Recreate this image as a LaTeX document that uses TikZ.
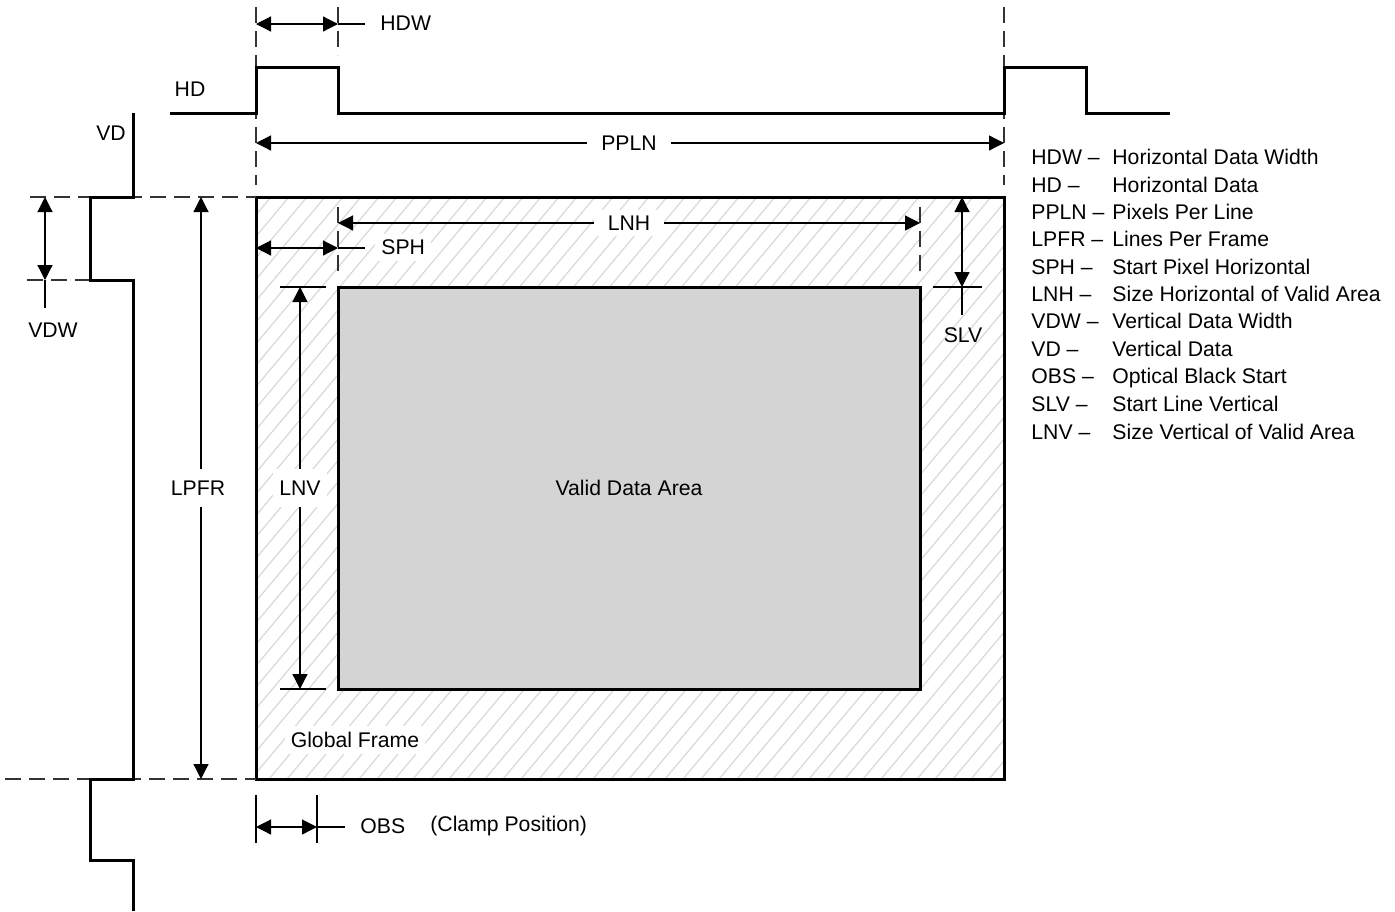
\documentclass[tikz,border=0pt]{standalone}
\usepackage{fontspec}
\setmainfont{Liberation Sans}
\usetikzlibrary{arrows.meta}
\definecolor{validgray}{HTML}{D4D4D4}
\definecolor{hatchgray}{HTML}{D8D8D8}
\tikzset{
  wave/.style={line width=1.5pt, line join=miter, line cap=butt},
  frameline/.style={line width=1.5pt, line join=miter},
  dimline/.style={line width=0.6pt, {Triangle[length=7.5pt,width=7.5pt]}-{Triangle[length=7.5pt,width=7.5pt]}},
  extline/.style={line width=0.6pt},
  guide/.style={line width=0.6pt, dash pattern=on 8pt off 4pt, draw=black!80},
  hatchline/.style={line width=0.6pt, draw=hatchgray},
  lbl/.style={inner sep=1pt},
  gaplbl/.style={fill=white, inner xsep=7pt, inner ysep=3pt},
  wlbl/.style={fill=white, inner sep=3pt},
  legabbr/.style={anchor=base west, inner sep=0pt},
  legtext/.style={anchor=base west, inner sep=0pt},
}
\begin{document}
\begin{tikzpicture}[x=0.5pt,y=-0.5pt, font=\fontsize{10.6}{12.5}\selectfont]
\useasboundingbox (0,0) rectangle (1395,911);

% ---------- key coordinates ----------
\coordinate (F-nw) at (256,197);
\coordinate (F-se) at (1004,779);
\coordinate (V-nw) at (338,287);
\coordinate (V-se) at (920,689);

% ---------- hatched global frame ----------
\begin{scope}
  \clip (F-nw) rectangle (F-se);
  \foreach \i in {0,...,70} {
    \draw[hatchline] ({\i*18-235},779) -- ({\i*18+253},197);
  }
\end{scope}
\draw[frameline] (F-nw) rectangle (F-se);
\draw[frameline, fill=validgray] (V-nw) rectangle (V-se);
\node (valid) at (629,488) {Valid Data Area};
\node[wlbl] (global) at (355,740) {Global Frame};

% ---------- guide (dashed) lines ----------
\coordinate (g1a) at (256,7);   \coordinate (g1b) at (256,185);
\coordinate (g2a) at (338,7);   \coordinate (g2b) at (338,55);
\coordinate (g3a) at (1004,7);  \coordinate (g3b) at (1004,185);
\coordinate (g4a) at (30,197);  \coordinate (g4b) at (256,197);
\coordinate (g5a) at (27,280);  \coordinate (g5b) at (90,280);
\coordinate (g6a) at (5,779);   \coordinate (g6b) at (256,779);
\coordinate (g7a) at (338,207); \coordinate (g7b) at (338,275);
\coordinate (g8a) at (920,207); \coordinate (g8b) at (920,275);
\draw[guide] (g1a) -- (g1b);
\draw[guide] (g2a) -- (g2b);
\draw[guide] (g3a) -- (g3b);
\draw[guide] (g4a) -- (g4b);
\draw[guide] (g5a) -- (g5b);
\draw[guide] (g6a) -- (g6b);
\draw[guide] (g7a) -- (g7b);
\draw[guide] (g8a) -- (g8b);

% ---------- HD waveform ----------
\coordinate (hd0) at (170,113);
\coordinate (hd1) at (1170,113);
\draw[wave] (hd0) -- (256,113) -- (256,67) -- (338,67) -- (338,113)
  -- (1004,113) -- (1004,67) -- (1086,67) -- (1086,113) -- (hd1);
\node[lbl] (hdlabel) at (190,89) {HD};

% ---------- VD waveform ----------
\coordinate (vd0) at (133,113);
\coordinate (vd1) at (133,911);
\draw[wave] (vd0) -- (133,197) -- (90,197) -- (90,280) -- (133,280)
  -- (133,779) -- (90,779) -- (90,860) -- (133,860) -- (vd1);
\node[lbl] (vdlabel) at (111,133) {VD};

% ---------- HDW ----------
\coordinate (hdwA) at (256,24); \coordinate (hdwB) at (338,24); \coordinate (hdwC) at (365,24);
\draw[dimline] (hdwA) -- (hdwB);
\draw[extline] (hdwB) -- (hdwC);
\node[lbl, anchor=west] (hdw) at (378,23) {HDW};

% ---------- PPLN ----------
\coordinate (pplnA) at (256,143); \coordinate (pplnB) at (1004,143);
\draw[dimline] (pplnA) -- (pplnB);
\node[gaplbl] (ppln) at (629,143) {PPLN};

% ---------- LNH ----------
\coordinate (lnhA) at (338,223); \coordinate (lnhB) at (920,223);
\draw[dimline] (lnhA) -- (lnhB);
\node[gaplbl] (lnh) at (629,223) {LNH};

% ---------- SPH ----------
\coordinate (sphA) at (256,248); \coordinate (sphB) at (338,248); \coordinate (sphC) at (365,248);
\draw[dimline] (sphA) -- (sphB);
\draw[extline] (sphB) -- (sphC);
\node[wlbl, anchor=west] (sph) at (375,247) {SPH};

% ---------- SLV ----------
\coordinate (slvA) at (962,197); \coordinate (slvB) at (962,287); \coordinate (slvC) at (962,315);
\coordinate (slvT1) at (933,287); \coordinate (slvT2) at (982,287);
\draw[dimline] (slvA) -- (slvB);
\draw[extline] (slvB) -- (slvC);
\draw[extline] (slvT1) -- (slvT2);
\node[lbl] (slv) at (963,335) {SLV};

% ---------- LNV ----------
\coordinate (lnvA) at (300,287); \coordinate (lnvB) at (300,689);
\coordinate (lnvT1) at (280,287); \coordinate (lnvT2) at (326,287);
\coordinate (lnvT3) at (280,689); \coordinate (lnvT4) at (326,689);
\draw[extline] (lnvT1) -- (lnvT2);
\draw[extline] (lnvT3) -- (lnvT4);
\draw[dimline] (lnvA) -- (lnvB);
\node[fill=white, inner xsep=3pt, inner ysep=6pt] (lnv) at (300,488) {LNV};

% ---------- LPFR ----------
\coordinate (lpfrA) at (201,197); \coordinate (lpfrB) at (201,779);
\draw[dimline] (lpfrA) -- (lpfrB);
\node[fill=white, inner xsep=3pt, inner ysep=6pt] (lpfr) at (198,488) {LPFR};

% ---------- VDW ----------
\coordinate (vdwA) at (45,197); \coordinate (vdwB) at (45,280); \coordinate (vdwC) at (45,308);
\draw[dimline] (vdwA) -- (vdwB);
\draw[extline] (vdwB) -- (vdwC);
\node[lbl] (vdw) at (53,330) {VDW};

% ---------- OBS ----------
\coordinate (obsT1a) at (256,795); \coordinate (obsT1b) at (256,843);
\coordinate (obsT2a) at (317,795); \coordinate (obsT2b) at (317,843);
\coordinate (obsA) at (256,827); \coordinate (obsB) at (317,827); \coordinate (obsC) at (345,827);
\draw[extline] (obsT1a) -- (obsT1b);
\draw[extline] (obsT2a) -- (obsT2b);
\draw[dimline] (obsA) -- (obsB);
\draw[extline] (obsB) -- (obsC);
\node[lbl, anchor=west] (obs) at (358,826) {OBS};
\node[lbl, anchor=west] (clamp) at (428,826) {(Clamp Position)};

% ---------- legend ----------
\foreach \ab/\tx/\yy [count=\k] in {
  HDW --/Horizontal Data Width/157,
  HD --/Horizontal Data/185,
  PPLN --/Pixels Per Line/212,
  LPFR --/Lines Per Frame/239,
  SPH --/Start Pixel Horizontal/267,
  LNH --/Size Horizontal of Valid Area/294,
  VDW --/Vertical Data Width/321,
  VD --/Vertical Data/349,
  OBS --/Optical Black Start/376,
  SLV --/Start Line Vertical/404,
  LNV --/Size Vertical of Valid Area/432} {
  \node[legabbr] (legA\k) at (1031,\yy+7.5) {\ab};
  \node[legtext] (legB\k) at (1112,\yy+7.5) {\tx};
}
\end{tikzpicture}
\end{document}
